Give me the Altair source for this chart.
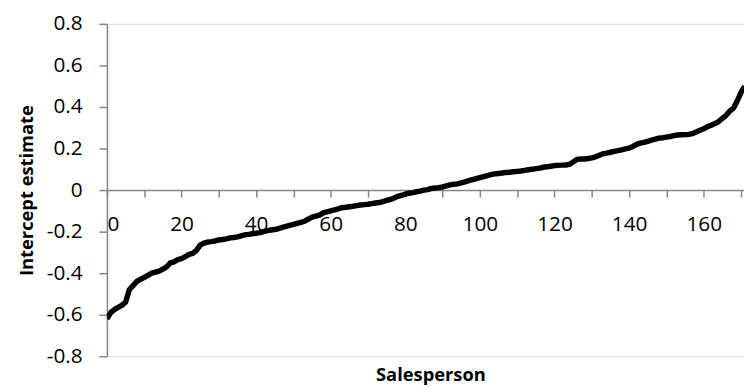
import altair as alt
import pandas as pd

salesperson = list(range(0, 172))
intercept = [
    -0.62, -0.59, -0.575, -0.565, -0.555, -0.54, -0.48, -0.46, -0.44, -0.43,
    -0.42, -0.41, -0.40, -0.395, -0.39, -0.38, -0.37, -0.35, -0.345, -0.335,
    -0.33, -0.32, -0.31, -0.305, -0.29, -0.265, -0.255, -0.25, -0.248, -0.245,
    -0.24, -0.238, -0.235, -0.23, -0.228, -0.225, -0.22, -0.215, -0.213, -0.21,
    -0.208, -0.205, -0.2, -0.195, -0.192, -0.19, -0.185, -0.18, -0.175, -0.17,
    -0.165, -0.16, -0.155, -0.15, -0.14, -0.13, -0.125, -0.12, -0.11, -0.105,
    -0.10, -0.095, -0.09, -0.085, -0.083, -0.08, -0.078, -0.075, -0.072, -0.07,
    -0.068, -0.065, -0.062, -0.06, -0.055, -0.05, -0.045, -0.038, -0.03, -0.025,
    -0.02, -0.015, -0.012, -0.008, -0.005, 0.0, 0.002, 0.008, 0.01, 0.012,
    0.015, 0.02, 0.025, 0.028, 0.03, 0.035, 0.04, 0.045, 0.05, 0.055,
    0.06, 0.065, 0.07, 0.075, 0.078, 0.08, 0.082, 0.085, 0.086, 0.088,
    0.09, 0.092, 0.095, 0.098, 0.1, 0.103, 0.106, 0.11, 0.112, 0.115,
    0.118, 0.119, 0.12, 0.121, 0.124, 0.135, 0.148, 0.15, 0.15, 0.152,
    0.155, 0.16, 0.168, 0.175, 0.178, 0.182, 0.186, 0.19, 0.194, 0.198,
    0.202, 0.21, 0.22, 0.226, 0.23, 0.235, 0.24, 0.245, 0.25, 0.252,
    0.255, 0.258, 0.262, 0.265, 0.266, 0.267, 0.268, 0.272, 0.28, 0.288,
    0.295, 0.305, 0.312, 0.32, 0.33, 0.345, 0.36, 0.38, 0.395, 0.43,
    0.47, 0.5,
]
x_ticks = list(range(0, 171, 10))
y_ticks = [-0.8, -0.6, -0.4, -0.2, 0, 0.2, 0.4, 0.6, 0.8]

df = pd.DataFrame({"Salesperson": salesperson, "Intercept": intercept})

FONT = "Open Sans"
AXIS_COLOR = "#868686"

line = alt.Chart(df).mark_line(color="black", strokeWidth=5.5, clip=True, strokeJoin="round").encode(
    x=alt.X(
        "Salesperson:Q",
        scale=alt.Scale(domain=[0, 170.8], nice=False, zero=False),
        axis=alt.Axis(
            title="Salesperson",
            values=x_ticks,
            labelExpr="datum.value % 20 == 0 ? datum.label : ''",
            offset=-168,
            grid=False,
            domainColor=AXIS_COLOR,
            domainWidth=1.5,
            tickColor=AXIS_COLOR,
            tickWidth=1.5,
            tickSize=7,
            labelPadding=17,
            labelFont=FONT,
            labelFontSize=21,
            labelColor="black",
            titleFont=FONT,
            titleFontSize=18.5,
            titleFontWeight="bold",
            titleColor="black",
            titleX=327,
            titleY=186,
            titleBaseline="middle",
            titleAlign="center",
        ),
    ),
    y=alt.Y(
        "Intercept:Q",
        scale=alt.Scale(domain=[-0.8, 0.8], nice=False, zero=False),
        axis=alt.Axis(
            title="Intercept estimate",
            values=y_ticks,
            labelExpr="datum.value == 0 ? '0' : (datum.value < 0 ? '-' : '') + format(abs(datum.value), '.1f')",
            grid=False,
            domainColor=AXIS_COLOR,
            domainWidth=1.5,
            tickColor=AXIS_COLOR,
            tickWidth=1.5,
            tickSize=8,
            labelPadding=17,
            labelFont=FONT,
            labelFontSize=21,
            labelColor="black",
            titleFont=FONT,
            titleFontSize=18.5,
            titleFontWeight="bold",
            titleColor="black",
            titleAngle=270,
            titleX=-81,
            titleY=168,
            titleBaseline="middle",
            titleAlign="center",
        ),
    ),
)

chart = line.properties(
    width=644,
    height=336,
    autosize=alt.AutoSizeParams(type="none"),
    padding={"left": 100, "top": 14, "right": 0, "bottom": 30},
).configure_view(stroke=None).configure(background="white")

chart.save("out.html", embed_options={"renderer": "svg", "actions": False})
